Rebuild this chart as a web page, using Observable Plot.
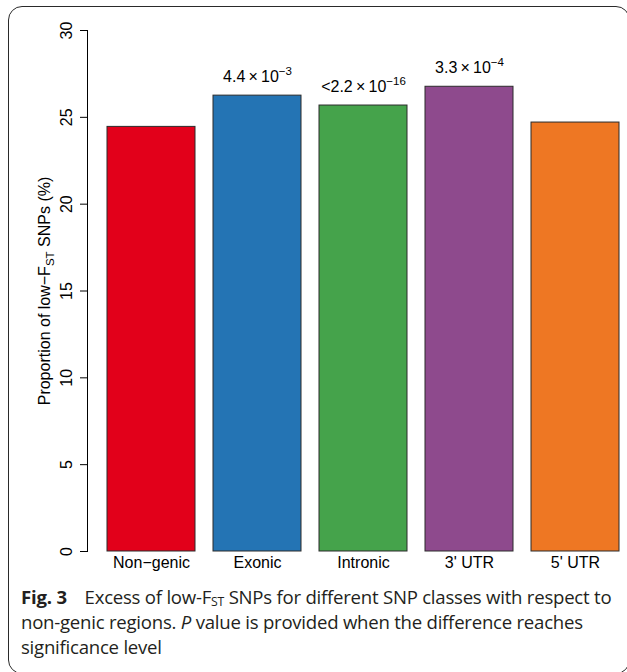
<!DOCTYPE html>
<html>
<head>
<meta charset="utf-8">
<script src="https://cdn.jsdelivr.net/npm/d3@7"></script>
<script src="https://cdn.jsdelivr.net/npm/@observablehq/plot@0.6"></script>
<style>
  html, body { margin: 0; padding: 0; background: #fff; }
  #wrap { position: relative; width: 627px; height: 672px; overflow: hidden; background: #fff; }
  #frame { position: absolute; left: 8px; top: 6px; width: 622px; height: 668px; border: 1.3px solid #2a2a2a; border-radius: 14px; box-sizing: border-box; pointer-events: none; }
  #chart { position: absolute; left: 0; top: 0; }
  #caption { position: absolute; left: 21px; top: 584px; width: 606px; font-family: "Open Sans", "Noto Sans", sans-serif; font-size: 18.6px; line-height: 25px; color: #231f20; letter-spacing: -0.24px; white-space: nowrap; }
  #caption b { font-weight: 700; letter-spacing: -0.2px; margin-right: 13px; }
  #caption sub { font-size: 0.66em; vertical-align: -0.15em; line-height: 0; }
</style>
</head>
<body>
<div id="wrap">
  <div id="chart"></div>
  <div id="caption"><b>Fig. 3</b> Excess of low-F<sub>ST</sub> SNPs for different SNP classes with respect to<br>non-genic regions. <i>P</i> value is provided when the difference reaches<br>significance level</div>
  <div id="frame"></div>
</div>
<script>
// ---- data ----
const categories = ["Non\u2212genic", "Exonic", "Intronic", "3' UTR", "5' UTR"];
const values = [24.45, 26.25, 25.68, 26.76, 24.7];
const colors = ["#e2001a", "#2474b4", "#45a34b", "#8e4a8d", "#ee7723"];
const pBase = ["", "4.4\u2009\u00d7\u200910", "<2.2\u2009\u00d7\u200910", "3.3\u2009\u00d7\u200910", ""];
const pExp = ["", "\u22123", "\u221216", "\u22124", ""];
const yTicks = [0, 5, 10, 15, 20, 25, 30];
const yTitle = "Proportion of low\u2212F";

const data = categories.map((c, i) => ({cat: c, value: values[i], color: colors[i], base: pBase[i], exp: pExp[i]}));
const annotated = data.filter(d => d.base !== "");

const font = "'Liberation Sans', Arial, Helvetica, sans-serif";

const chart = Plot.plot({
  width: 627,
  height: 580,
  marginTop: 30,
  marginBottom: 29,
  marginLeft: 87,
  marginRight: 6,
  style: {fontFamily: font, fontSize: "16px", color: "#000", background: "transparent"},
  x: {domain: categories, range: [104.8, 621], paddingInner: 0.1667, paddingOuter: 0, axis: null},
  y: {domain: [0, 30], axis: null},
  marks: [
    Plot.barY(data, {x: "cat", y: "value", fill: "color", stroke: "#2b2b2b", strokeWidth: 1}),
    Plot.text(data, {x: "cat", text: "cat", frameAnchor: "bottom", dy: 16, fontSize: 16, fill: "#000"}),
    Plot.frame({anchor: "left", stroke: "#000", strokeWidth: 1}),
    Plot.tickY(yTicks, {y: d => d, frameAnchor: "left", stroke: "#000"}),
    Plot.text(yTicks, {y: d => d, text: d => String(d), frameAnchor: "left", dx: -21, rotate: -90, textAnchor: "middle", fontSize: 16, fill: "#000"}),
    Plot.text([yTitle], {y: [15], text: d => d, frameAnchor: "left", dx: -43, rotate: -90, textAnchor: "middle", fontSize: 16, fill: "#000"}),
    Plot.text(annotated, {x: "cat", y: "value", text: "base", dy: -19, fontSize: 16, fill: "#000"})
  ]
});

document.getElementById("chart").appendChild(chart);

const svg = d3.select(chart);
// short ticks on the left
svg.selectAll("line").each(function() {
  const l = d3.select(this);
  const y1 = l.attr("y1"), y2 = l.attr("y2");
  if (y1 != null && y1 === y2) {
    l.attr("x1", 80).attr("x2", 87);
  }
});

// rich text: superscripts and subscripts
svg.selectAll("text").each(function() {
  const t = d3.select(this);
  const s = t.text();
  const idx = pBase.indexOf(s);
  if (s !== "" && idx >= 0) {
    t.text(null);
    t.append("tspan").text(pBase[idx]);
    t.append("tspan").attr("font-size", 11.5).attr("dy", "-0.6em").text(pExp[idx]);
  } else if (s === yTitle) {
    t.text(null);
    t.append("tspan").text(yTitle);
    t.append("tspan").attr("font-size", 11.5).attr("dy", "0.35em").text("ST");
    t.append("tspan").attr("dy", "-0.25em").text(" SNPs (%)");
  }
});
</script>
</body>
</html>
